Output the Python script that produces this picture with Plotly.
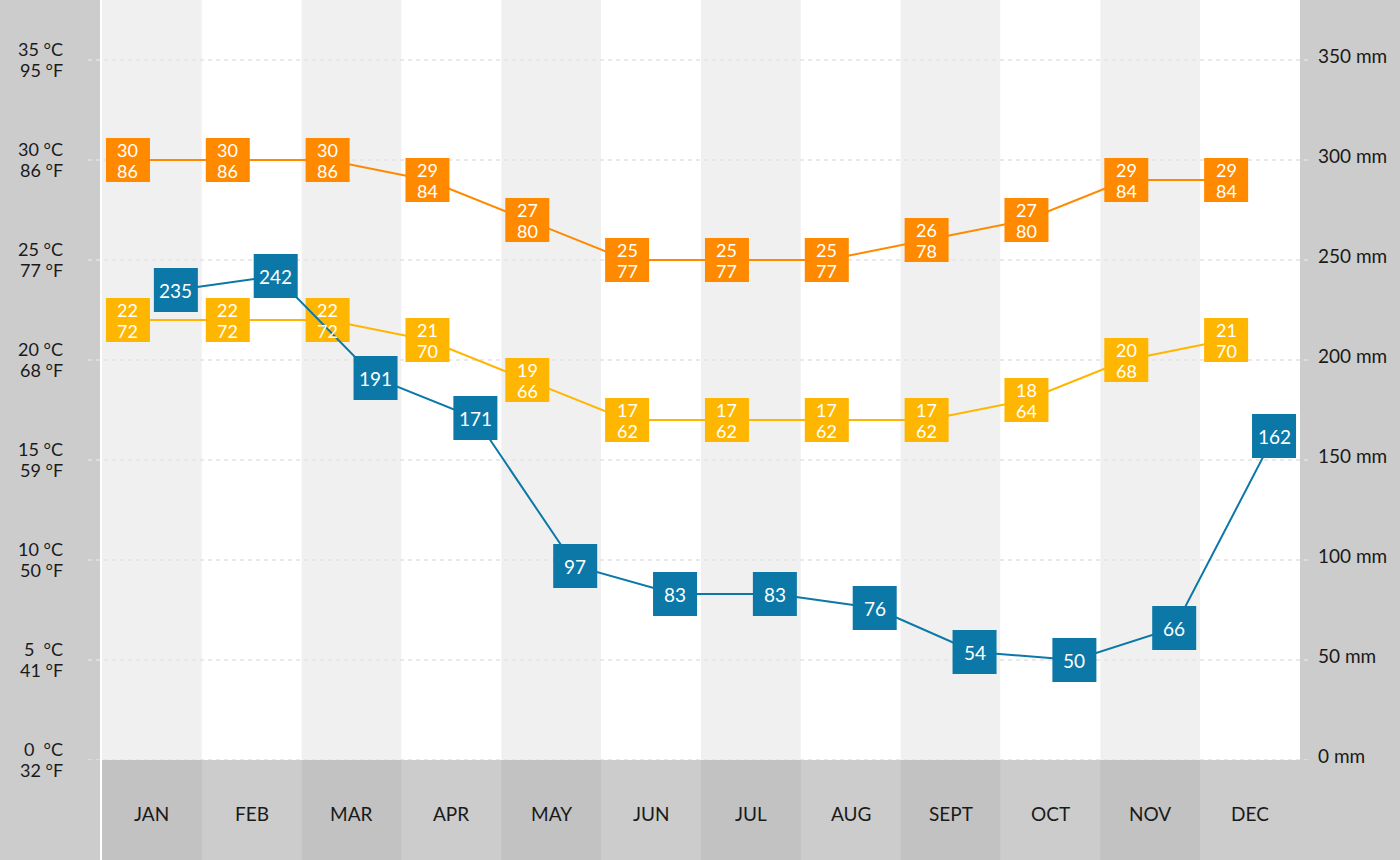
import plotly.graph_objects as go

months = ["JAN", "FEB", "MAR", "APR", "MAY", "JUN", "JUL", "AUG", "SEPT", "OCT", "NOV", "DEC"]
high_c = [30, 30, 30, 29, 27, 25, 25, 25, 26, 27, 29, 29]
high_f = [86, 86, 86, 84, 80, 77, 77, 77, 78, 80, 84, 84]
low_c = [22, 22, 22, 21, 19, 17, 17, 17, 17, 18, 20, 21]
low_f = [72, 72, 72, 70, 66, 62, 62, 62, 62, 64, 68, 70]
rain_mm = [235, 242, 191, 171, 97, 83, 83, 76, 54, 50, 66, 162]
temp_ticks_c = [0, 5, 10, 15, 20, 25, 30, 35]
temp_ticks_f = [32, 41, 50, 59, 68, 77, 86, 95]
rain_ticks = [0, 50, 100, 150, 200, 250, 300, 350]

W, H = 1400, 860
PL, PR, BB = 102, 1300, 100
ORANGE = "#FF8A00"
YELLOW = "#FFB600"
BLUE = "#0B78A7"
FONT = "Lato"
TXT = "#1a1a1a"
AX_SIZE = 18
MM_SIZE = 19
BOX_SIZE = 18
RAIN_SIZE = 19

idx = list(range(len(months)))
off = 0.24
temp_x = [i - off for i in idx]
rain_x = [i + off for i in idx]

fig = go.Figure()
fig.add_trace(go.Scatter(x=rain_x, y=rain_mm, yaxis="y2", mode="lines+markers",
                         line=dict(color=BLUE, width=2),
                         marker=dict(symbol="square", size=44, color=BLUE)))
fig.add_trace(go.Scatter(x=temp_x, y=low_c, mode="lines+markers",
                         line=dict(color=YELLOW, width=2),
                         marker=dict(symbol="square", size=44, color=YELLOW)))
fig.add_trace(go.Scatter(x=temp_x, y=high_c, mode="lines+markers",
                         line=dict(color=ORANGE, width=2),
                         marker=dict(symbol="square", size=44, color=ORANGE)))

shapes = []
shapes.append(dict(type="rect", xref="paper", yref="paper", x0=0, x1=100 / W, y0=0, y1=1,
                   fillcolor="#cccccc", line=dict(width=0), layer="below"))
shapes.append(dict(type="rect", xref="paper", yref="paper", x0=100 / W, x1=PL / W, y0=0, y1=1,
                   fillcolor="#ffffff", line=dict(width=0), layer="below"))
shapes.append(dict(type="rect", xref="paper", yref="paper", x0=PR / W, x1=1, y0=0, y1=1,
                   fillcolor="#cccccc", line=dict(width=0), layer="below"))
for i in idx:
    shapes.append(dict(type="rect", xref="x", yref="paper", x0=i - 0.5, x1=i + 0.5,
                       y0=BB / H, y1=1, fillcolor="#f0f0f0" if i % 2 == 0 else "#ffffff",
                       line=dict(width=0), layer="below"))
    shapes.append(dict(type="rect", xref="x", yref="paper", x0=i - 0.5, x1=i + 0.5,
                       y0=0, y1=BB / H, fillcolor="#c2c2c2" if i % 2 == 0 else "#cccccc",
                       line=dict(width=0), layer="below"))
for c in temp_ticks_c:
    shapes.append(dict(type="line", xref="paper", yref="y", x0=88 / W, x1=1308 / W, y0=c, y1=c,
                       line=dict(color="#e2e2e2", width=1.5, dash="4px,4px"), layer="below"))

ann = []
for c, f in zip(temp_ticks_c, temp_ticks_f):
    c_txt = f"{c} °C" if c >= 10 else f"{c}\u2002°C"
    ann.append(dict(xref="paper", yref="y", x=65 / W, y=c, text=c_txt, xanchor="right",
                    yanchor="middle", yshift=11, showarrow=False,
                    font=dict(family=FONT, size=AX_SIZE, color=TXT)))
    ann.append(dict(xref="paper", yref="y", x=65 / W, y=c, text=f"{f} °F", xanchor="right",
                    yanchor="middle", yshift=-10, showarrow=False,
                    font=dict(family=FONT, size=AX_SIZE, color=TXT)))
for r in rain_ticks:
    ann.append(dict(xref="paper", yref="y2", x=1316 / W, y=r, text=f"{r} mm", xanchor="left",
                    yanchor="middle", yshift=5, showarrow=False,
                    font=dict(family=FONT, size=MM_SIZE, color=TXT)))
for i, m in zip(idx, months):
    ann.append(dict(xref="x", yref="paper", x=i, y=BB / H / 2, text=m, xanchor="center",
                    yanchor="middle", yshift=-3, showarrow=False,
                    font=dict(family=FONT, size=MM_SIZE, color=TXT)))
for x, hc, hf, lc, lf in zip(temp_x, high_c, high_f, low_c, low_f):
    for yv, t, s in [(hc, hc, 10), (hc, hf, -11), (lc, lc, 10), (lc, lf, -11)]:
        ann.append(dict(xref="x", yref="y", x=x, y=yv, text=str(t), xanchor="center",
                        yanchor="middle", yshift=s, showarrow=False,
                        font=dict(family=FONT, size=BOX_SIZE, color="#ffffff")))
for x, r in zip(rain_x, rain_mm):
    ann.append(dict(xref="x", yref="y2", x=x, y=r, text=str(r), xanchor="center",
                    yanchor="middle", showarrow=False,
                    font=dict(family=FONT, size=RAIN_SIZE, color="#ffffff")))

fig.update_layout(
    width=W, height=H, margin=dict(l=0, r=0, t=0, b=0),
    paper_bgcolor="#cccccc", plot_bgcolor="#ffffff",
    showlegend=False, hovermode=False,
    xaxis=dict(domain=[PL / W, PR / W], range=[-0.5, 11.5], visible=False, fixedrange=True),
    yaxis=dict(domain=[BB / H, 1], range=[0, 38], visible=False, fixedrange=True),
    yaxis2=dict(domain=[BB / H, 1], range=[0, 380], overlaying="y", side="right", visible=False,
                fixedrange=True),
    shapes=shapes, annotations=ann,
    font=dict(family=FONT),
)

fig.write_html("out.html", config={"displayModeBar": False},
               post_script="document.body.style.margin='0';document.body.style.overflow='hidden';")
